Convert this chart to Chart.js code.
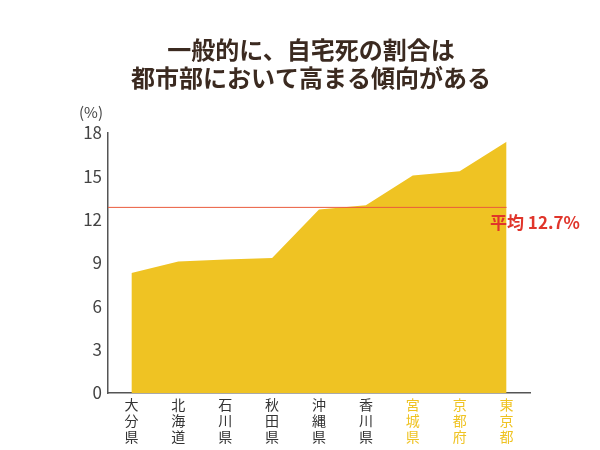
<!DOCTYPE html>
<html lang="ja">
<head>
  <meta charset="UTF-8">
  <title>自宅死の割合</title>
  <style>
    body { margin:0; padding:0; background:#fff; }
    #wrap { width:600px; height:450px; }
  </style>
</head>
<body>
  <div id="wrap"><canvas id="chart" width="600" height="450"></canvas></div>

  <script src="https://cdn.jsdelivr.net/npm/chart.js"></script>
  <script>
    // 都道府県（縦書きなので1文字ずつ）
    const prefectures = ['大分県', '北海道', '石川県', '秋田県', '沖縄県', '香川県', '宮城県', '京都府', '東京都'];
    const homeDeathRate = [8.3, 9.1, 9.25, 9.35, 12.7, 13.0, 15.05, 15.35, 17.4];
    const highlighted = [false, false, false, false, false, false, true, true, true];
    const averageRate = 12.85;
    const averageLabel = '平均 12.7%';
    const yTicks = [0, 3, 6, 9, 12, 15, 18];
    const titleLines = ['一般的に、自宅死の割合は', '都市部において高まる傾向がある'];

    const GOLD = '#efc323';
    const FONT = '"Noto Sans CJK JP", "Noto Sans", sans-serif';

    // タイトル・平均線・単位を描く
    const extras = {
      id: 'extras',
      afterDraw(chart) {
        const ctx = chart.ctx;
        const y = chart.scales.y, x = chart.scales.x;
        const area = chart.chartArea;
        ctx.save();

        // タイトル
        ctx.fillStyle = '#3b2a20';
        ctx.font = 'bold 24px ' + FONT;
        ctx.textAlign = 'center';
        ctx.textBaseline = 'middle';
        ctx.fillText(titleLines[0], 311, 50);
        ctx.fillText(titleLines[1], 311, 78);

        // 平均線
        const ay = y.getPixelForValue(averageRate);
        const lastX = x.getPixelForValue(prefectures.length - 1);
        ctx.strokeStyle = '#ea5a3c';
        ctx.lineWidth = 1;
        ctx.beginPath();
        ctx.moveTo(area.left, ay);
        ctx.lineTo(lastX, ay);
        ctx.stroke();

        ctx.fillStyle = '#e0352b';
        ctx.font = 'bold 17px ' + FONT;
        ctx.textAlign = 'left';
        ctx.fillText(averageLabel, 490, ay + 15);

        // 単位
        ctx.fillStyle = '#444';
        ctx.font = '15px ' + FONT;
        ctx.textAlign = 'center';
        ctx.fillText('(%)', 91, 112);
        ctx.restore();
      }
    };

    new Chart(document.getElementById('chart'), {
      type: 'line',
      data: {
        labels: prefectures.map(p => p.split('')),
        datasets: [{
          data: homeDeathRate,
          fill: 'origin',
          backgroundColor: GOLD,
          borderWidth: 0,
          pointRadius: 0,
          tension: 0
        }]
      },
      options: {
        responsive: false,
        animation: false,
        layout: { padding: { top: 133, right: 70, left: 0, bottom: 0 } },
        plugins: { legend: { display: false }, tooltip: { enabled: false } },
        scales: {
          x: {
            offset: true,
            grid: { display: false, drawTicks: false },
            border: { display: true, color: '#555', width: 1.5 },
            ticks: {
              autoSkip: false,
              maxRotation: 0,
              padding: 4,
              font: { family: FONT, size: 14, lineHeight: 1.12 },
              color: ctx => highlighted[ctx.index] ? GOLD : '#333'
            },
            afterFit: s => { s.height = 57; }
          },
          y: {
            min: 0,
            max: 18,
            afterBuildTicks: s => { s.ticks = yTicks.map(v => ({ value: v })); },
            grid: { display: false, drawTicks: false },
            border: { display: true, color: '#555', width: 1.5 },
            ticks: {
              padding: 6,
              font: { family: FONT, size: 17 },
              color: '#444'
            },
            afterFit: s => { s.width = 108; }
          }
        }
      },
      plugins: [extras]
    });
  </script>
</body>
</html>
